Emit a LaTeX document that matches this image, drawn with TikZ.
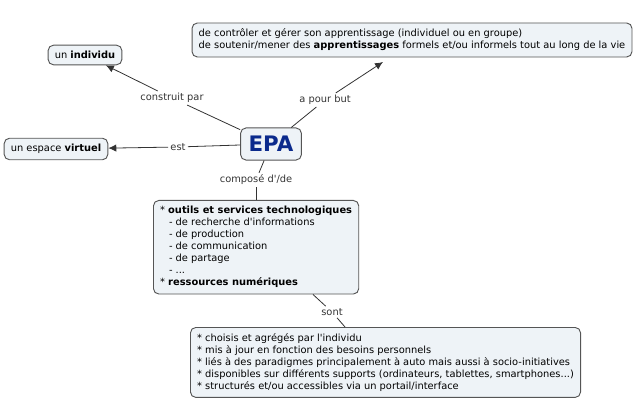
\documentclass[tikz,border=0pt]{standalone}
\usepackage{fontspec}
\setmainfont{DejaVu Sans}
\usetikzlibrary{positioning,arrows.meta}
\definecolor{boxfill}{HTML}{EEF3F7}
\definecolor{boxline}{HTML}{555555}
\definecolor{epablue}{HTML}{0B2A8C}
\definecolor{linkgray}{HTML}{333333}
\newcommand{\apos}{\textquotesingle}
\tikzset{
  concept/.style={draw=boxline, fill=boxfill, rounded corners=4pt, line width=0.7pt,
    font=\fontsize{7.4}{9}\selectfont, align=left, inner xsep=5pt, inner ysep=4.5pt},
  link/.style={font=\fontsize{7.4}{9}\selectfont, text=linkgray, inner sep=1.5pt},
  conn/.style={draw=linkgray, line width=0.6pt},
  arr/.style={conn, -{Latex[length=6pt,width=5.5pt]}}
}
\begin{document}
\begin{tikzpicture}[x=0.75pt,y=-0.75pt]
    \useasboundingbox (0,0) rectangle (638,409);

      % concepts
      \node[concept, inner xsep=6pt, inner ysep=6.2pt] (epa) at (271,144) {\fontsize{16}{19}\selectfont\bfseries\color{epablue}EPA};
      \node[concept] (individu) at (85,55) {un \textbf{individu}};
      \node[concept] (espace) at (56,149) {un espace \textbf{virtuel}};
      \node[concept] (but) at (412,40) {de contrôler et gérer son apprentissage (individuel ou en groupe)\\
        de soutenir/mener des \textbf{apprentissages} formels et/ou informels tout au long de la vie};
      \node[concept, anchor=north west] (outils) at (153,200) {* \textbf{outils et services technologiques}\\
        \hspace{0.9em}- de recherche d\apos informations\\
        \hspace{0.9em}- de production\\
        \hspace{0.9em}- de communication\\
        \hspace{0.9em}- de partage\\
        \hspace{0.9em}- ...\\
        * \textbf{ressources numériques}};
      \node[concept, anchor=north west] (props) at (190,327) {* choisis et agrégés par l\apos individu\\
        * mis à jour en fonction des besoins personnels\\
        * liés à des paradigmes principalement à auto mais aussi à socio-initiatives\\
        * disponibles sur différents supports (ordinateurs, tablettes, smartphones...)\\
        * structurés et/ou accessibles via un portail/interface};

      % link labels
      \node[link] (construit) at (172,98) {construit par};
      \node[link] (pourbut) at (325,100) {a pour but};
      \node[link] (est) at (178,147) {est};
      \node[link] (compose) at (256,180) {composé d\apos/de};
      \node[link] (sont) at (332,312) {sont};

      % connectors
      \draw[conn] (epa) -- (construit);
      \draw[arr] (construit) -- (individu);
      \draw[conn] (epa) -- (pourbut);
      \draw[arr] (pourbut) -- (383,62);
      \draw[conn] (epa) -- (est);
      \draw[arr] (est) -- (espace);
      \draw[conn] (epa) -- (compose);
      \draw[conn] (compose) -- (outils.north -| compose);
      \draw[conn] (outils.south -| 313,0) -- (sont);
      \draw[conn] (sont) -- (props.north -| 345,0);
    \end{tikzpicture}
\end{document}
